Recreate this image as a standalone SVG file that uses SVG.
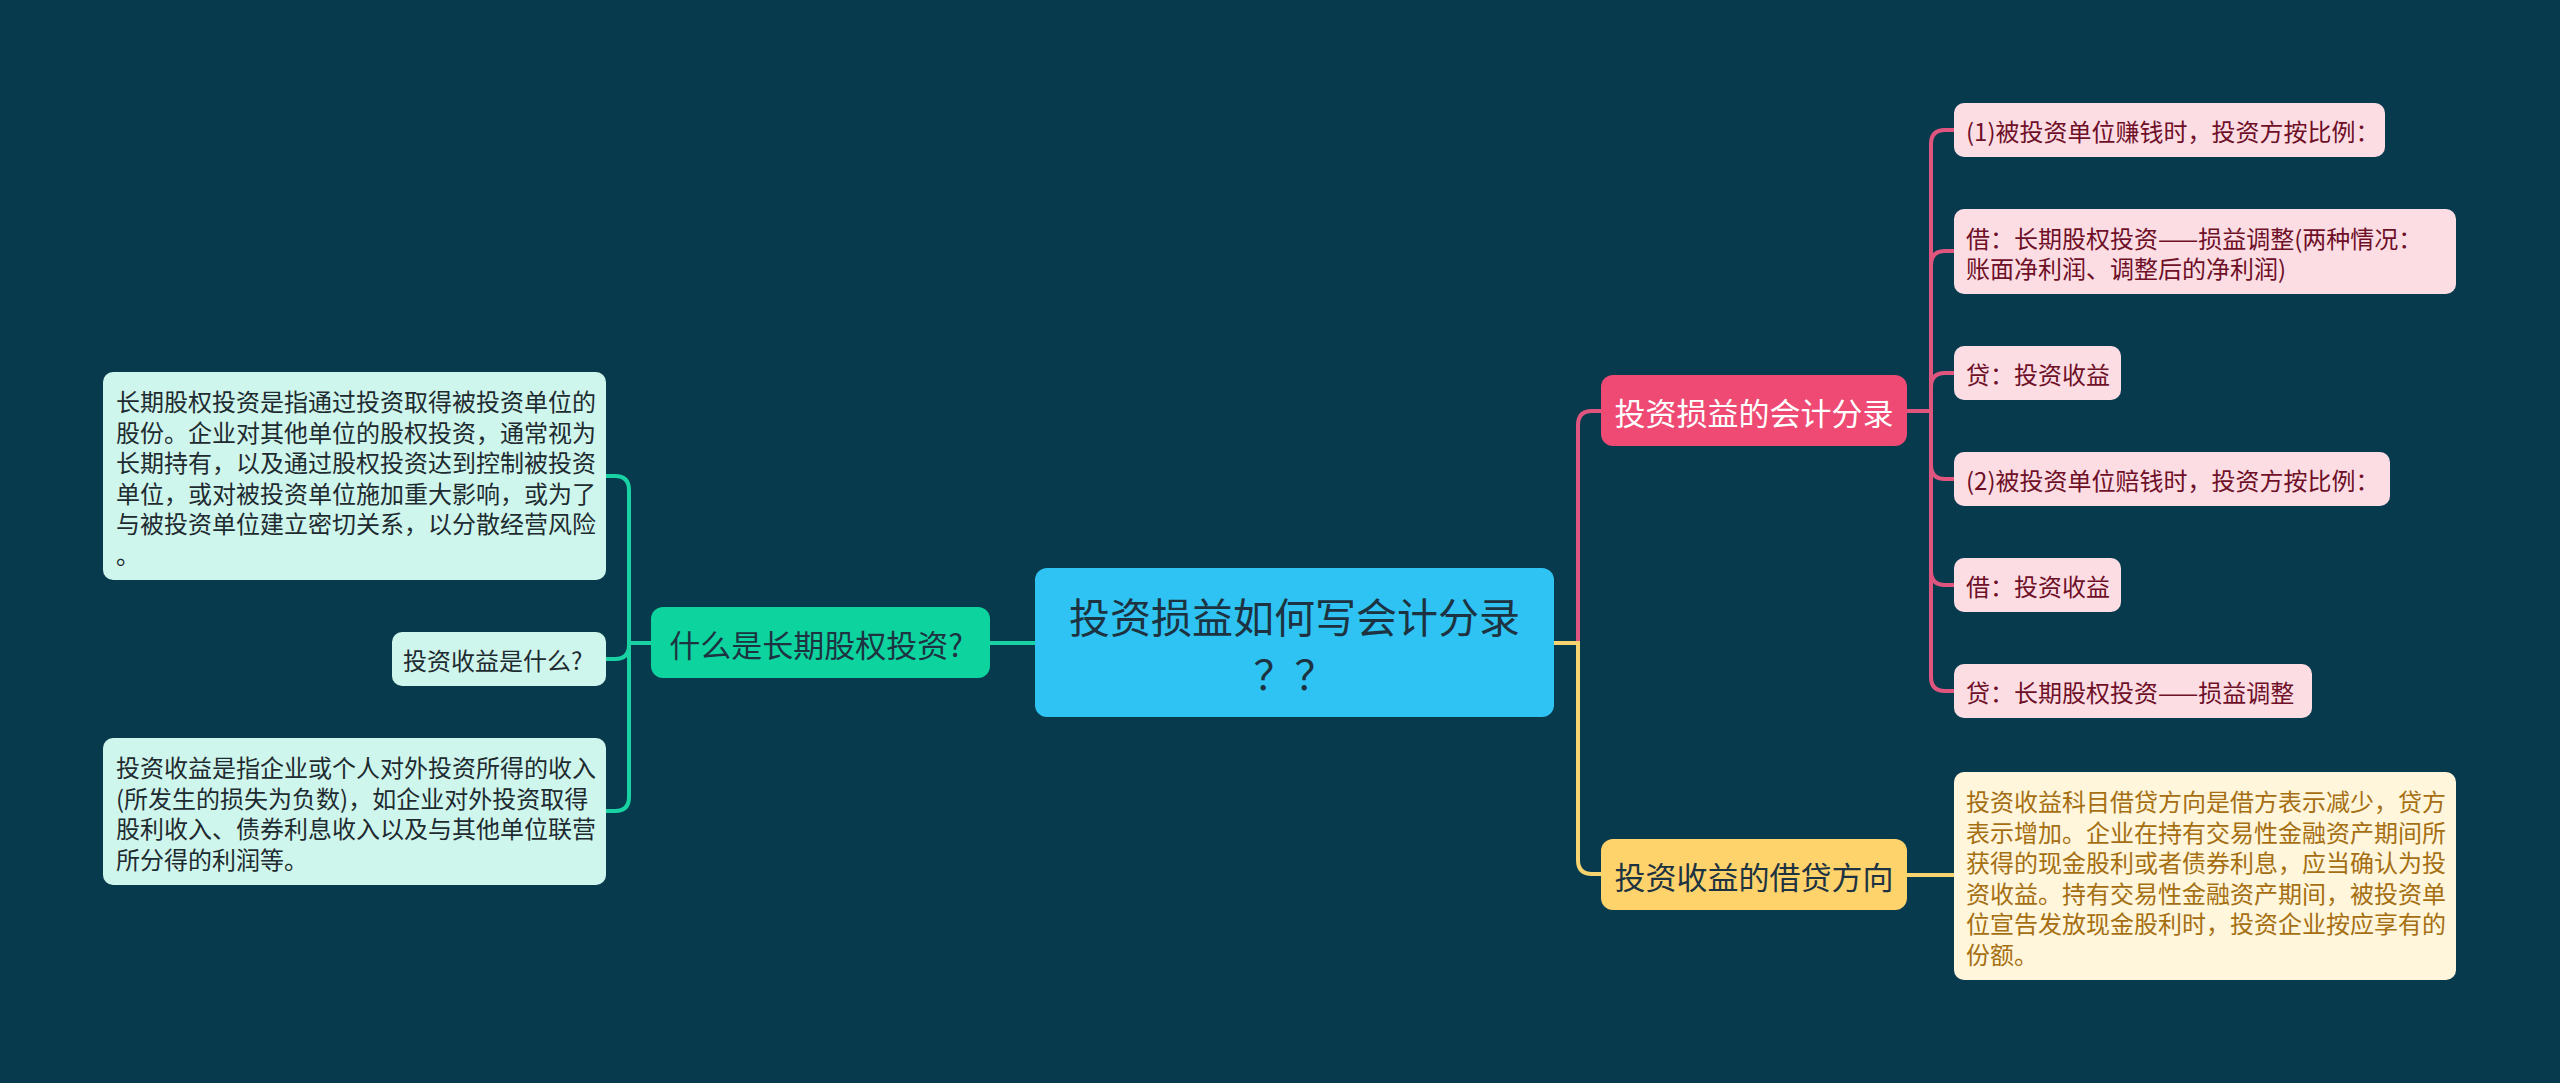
<svg xmlns="http://www.w3.org/2000/svg" width="2560" height="1083" viewBox="0 0 2560 1083">
<style>
text{font-family:"Noto Sans CJK SC","Noto Sans",sans-serif;dominant-baseline:central}
.c{fill:none;stroke-width:4;stroke-linecap:round}
.cg{stroke:#18D2A3}.cp{stroke:#E0557D}.cy{stroke:#F7D470}
.lf{font-size:24px}
.gl{fill:#CFF6EC}.gt{fill:#1E2B30}
.pl{fill:#FDDDE4}.pt{fill:#6E1028}
.yl{fill:#FFF6DC}.yt{fill:#A56F12}
.l1{font-size:31px}
</style>
<rect width="2560" height="1083" fill="#083A4E"/>
<g id="connectors">
<path class="c cg" d="M990,643 H1035"/>
<path class="c cg" d="M651,643 H629 V490 Q629,476 615,476 H606"/>
<path class="c cg" d="M651,643 H629 V645 Q629,659 615,659 H606"/>
<path class="c cg" d="M651,643 H629 V797 Q629,811 615,811 H606"/>
<path class="c cp" d="M1554,643 H1578 V425 Q1578,411 1592,411 H1601"/>
<path class="c cy" d="M1554,643 H1578 V860 Q1578,874 1592,874 H1601"/>
<path class="c cp" d="M1907,411 H1931 V144 Q1931,130 1945,130 H1954"/>
<path class="c cp" d="M1907,411 H1931 V265 Q1931,251 1945,251 H1954"/>
<path class="c cp" d="M1907,411 H1931 V387 Q1931,373 1945,373 H1954"/>
<path class="c cp" d="M1907,411 H1931 V465 Q1931,479 1945,479 H1954"/>
<path class="c cp" d="M1907,411 H1931 V571 Q1931,585 1945,585 H1954"/>
<path class="c cp" d="M1907,411 H1931 V677 Q1931,691 1945,691 H1954"/>
<path class="c cy" d="M1907,875 H1954"/>
</g>
<g id="center">
<rect x="1035" y="568" width="519" height="149" rx="12" fill="#2EC3F2"/>
<text x="1294.5" y="615" font-size="41" text-anchor="middle" fill="#1D3341">投资损益如何写会计分录</text>
<text x="1294.5" y="672" font-size="41" text-anchor="middle" fill="#1D3341">？？</text>
</g>
<g id="n-green">
<rect x="651" y="607" width="339" height="71" rx="12" fill="#0DD39F"/>
<text class="l1" x="816" y="643" text-anchor="middle" fill="#1D3341">什么是长期股权投资?</text>
</g>
<g id="g-leaf1">
<rect class="gl" x="103" y="372" width="503" height="208" rx="10"/>
<text class="lf gt" x="116"><tspan x="116" y="400">长期股权投资是指通过投资取得被投资单位的</tspan><tspan x="116" y="430.5">股份。企业对其他单位的股权投资，通常视为</tspan><tspan x="116" y="461">长期持有，以及通过股权投资达到控制被投资</tspan><tspan x="116" y="491.5">单位，或对被投资单位施加重大影响，或为了</tspan><tspan x="116" y="522">与被投资单位建立密切关系，以分散经营风险</tspan><tspan x="116" y="552.5">。</tspan></text>
</g>
<g id="g-leaf2">
<rect class="gl" x="392" y="632" width="214" height="54" rx="10"/>
<text class="lf gt" x="403" y="659">投资收益是什么?</text>
</g>
<g id="g-leaf3">
<rect class="gl" x="103" y="738" width="503" height="147" rx="10"/>
<text class="lf gt"><tspan x="116" y="766">投资收益是指企业或个人对外投资所得的收入</tspan><tspan x="116" y="796.5">(所发生的损失为负数)，如企业对外投资取得</tspan><tspan x="116" y="827">股利收入、债券利息收入以及与其他单位联营</tspan><tspan x="116" y="857.5">所分得的利润等。</tspan></text>
</g>
<g id="n-pink">
<rect x="1601" y="375" width="306" height="71" rx="12" fill="#EE4A74"/>
<text class="l1" x="1754" y="411" text-anchor="middle" fill="#FFFFFF">投资损益的会计分录</text>
</g>
<g id="p-leaf1">
<rect class="pl" x="1954" y="103" width="431" height="54" rx="10"/>
<text class="lf pt" x="1966" y="130">(1)被投资单位赚钱时，投资方按比例：</text>
</g>
<g id="p-leaf2">
<rect class="pl" x="1954" y="209" width="502" height="85" rx="10"/>
<text class="lf pt"><tspan x="1966" y="236.5">借：长期股权投资——损益调整(两种情况：</tspan><tspan x="1966" y="267">账面净利润、调整后的净利润)</tspan></text>
</g>
<g id="p-leaf3">
<rect class="pl" x="1954" y="346" width="167" height="54" rx="10"/>
<text class="lf pt" x="1966" y="373">贷：投资收益</text>
</g>
<g id="p-leaf4">
<rect class="pl" x="1954" y="452" width="436" height="54" rx="10"/>
<text class="lf pt" x="1966" y="479">(2)被投资单位赔钱时，投资方按比例：</text>
</g>
<g id="p-leaf5">
<rect class="pl" x="1954" y="558" width="167" height="54" rx="10"/>
<text class="lf pt" x="1966" y="585">借：投资收益</text>
</g>
<g id="p-leaf6">
<rect class="pl" x="1954" y="664" width="358" height="54" rx="10"/>
<text class="lf pt" x="1966" y="691">贷：长期股权投资——损益调整</text>
</g>
<g id="n-yellow">
<rect x="1601" y="839" width="306" height="71" rx="12" fill="#FFD36B"/>
<text class="l1" x="1754" y="875" text-anchor="middle" fill="#1D3341">投资收益的借贷方向</text>
</g>
<g id="y-leaf1">
<rect class="yl" x="1954" y="772" width="502" height="208" rx="10"/>
<text class="lf yt"><tspan x="1966" y="800">投资收益科目借贷方向是借方表示减少，贷方</tspan><tspan x="1966" y="830.5">表示增加。企业在持有交易性金融资产期间所</tspan><tspan x="1966" y="861">获得的现金股利或者债券利息，应当确认为投</tspan><tspan x="1966" y="891.5">资收益。持有交易性金融资产期间，被投资单</tspan><tspan x="1966" y="922">位宣告发放现金股利时，投资企业按应享有的</tspan><tspan x="1966" y="952.5">份额。</tspan></text>
</g>
</svg>
